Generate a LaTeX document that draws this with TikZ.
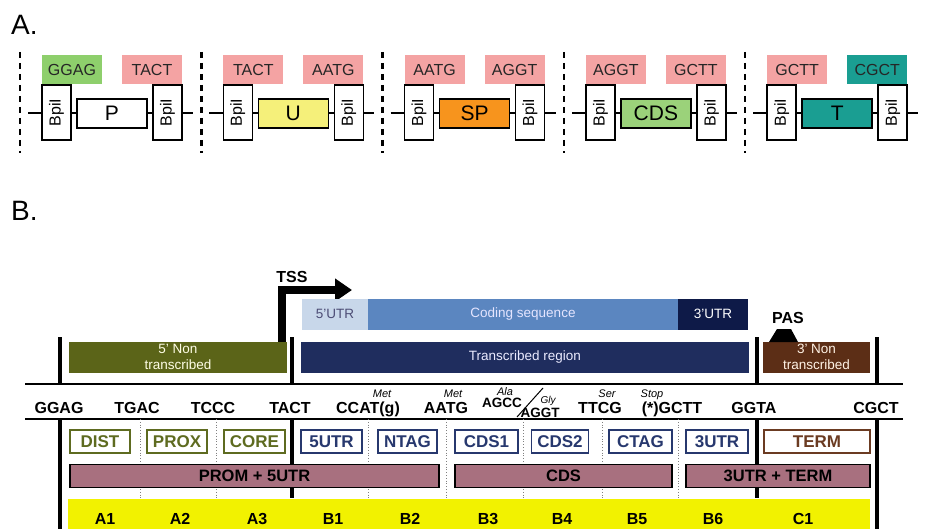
\documentclass[tikz,border=0pt]{standalone}
\usepackage{fontspec}
\setmainfont{Liberation Sans}
\usetikzlibrary{arrows.meta}

\definecolor{sgreen}{HTML}{8ECF6C}
\definecolor{spink}{HTML}{F4A3A3}
\definecolor{steal}{HTML}{1A9E92}
\definecolor{uyel}{HTML}{F5F07A}
\definecolor{sporange}{HTML}{F7941D}
\definecolor{cdsgreen}{HTML}{9BD27A}
\definecolor{utrlight}{HTML}{C8D7EA}
\definecolor{cdsblue}{HTML}{5B86C0}
\definecolor{utrdark}{HTML}{0E1A48}
\definecolor{trnavy}{HTML}{1F2D5E}
\definecolor{ntolive}{HTML}{5B6418}
\definecolor{ntbrown}{HTML}{5C2E16}
\definecolor{mauve}{HTML}{A8707F}
\definecolor{ybright}{HTML}{F2F200}
\definecolor{olvtext}{HTML}{5E6B20}
\definecolor{navtext}{HTML}{27386E}
\definecolor{brntext}{HTML}{6B3B22}

\begin{document}
\begin{tikzpicture}[x=1pt,y=-1pt,
    bpi/.style={draw, line width=1.5pt, fill=white, rotate=90, minimum width=55pt, minimum height=29pt, inner sep=0pt, font=\fontsize{16}{19}\selectfont},
    part/.style={draw, line width=1.5pt, minimum width=70pt, minimum height=29pt, inner sep=0pt, font=\fontsize{21}{25}\selectfont},
    site/.style={minimum width=60pt, minimum height=29pt, inner sep=0pt, font=\fontsize{16}{19}\selectfont, text=black!85},
    dashsep/.style={line width=2.5pt, dash pattern=on 6pt off 5pt},
    region/.style={minimum height=31pt, inner sep=0pt, align=center, font=\fontsize{13.5}{16}\selectfont},
    seq/.style={anchor=base, inner sep=0pt, font=\fontsize{16}{19}\selectfont\bfseries},
    aa/.style={anchor=base, inner sep=0pt, font=\fontsize{11}{13}\selectfont\itshape},
    mod/.style={draw, line width=1.5pt, fill=white, minimum height=23pt, inner sep=0pt, font=\fontsize{17}{20}\selectfont\bfseries},
    bar/.style={draw, line width=1.5pt, fill=mauve, minimum height=23pt, inner sep=0pt, font=\fontsize{16.5}{19}\selectfont\bfseries},
    wall/.style={line width=4pt},
    dotsep/.style={gray, line width=0.8pt, dotted}]
    \useasboundingbox (0,0) rectangle (925,529);

    % Panel labels
    \node[anchor=base west, inner sep=0pt, font=\fontsize{28}{32}\selectfont] (labA) at (11,35) {A.};
    \node[anchor=base west, inner sep=0pt, font=\fontsize{28}{32}\selectfont] (labB) at (11,221) {B.};

    % A: parts between BpiI sites
    \foreach \i/\p/\pc/\la/\lac/\lb/\lbc in {0/P/white/GGAG/sgreen/TACT/spink,
        1/U/uyel/TACT/spink/AATG/spink, 2/SP/sporange/AATG/spink/AGGT/spink,
        3/CDS/cdsgreen/AGGT/spink/GCTT/spink, 4/T/steal/GCTT/spink/CGCT/steal}{
        \pgfmathsetmacro\xo{42+181.3*\i}
        \draw[dashsep] (\xo-22,52) -- (\xo-22,153);
        \coordinate (l\i) at (\xo-14,113);
        \coordinate (r\i) at (\xo+151,113);
        \draw[line width=1.5pt] (l\i) -- (r\i);
        \node[bpi] (bl\i) at (\xo+14.5,112.5) {BpiI};
        \node[part, fill=\pc] (p\i) at (\xo+70,113.5) {\p};
        \node[bpi] (br\i) at (\xo+125.5,112.5) {BpiI};
        \node[site, fill=\lac] (sa\i) at (\xo+30,69.5) {\la};
        \node[site, fill=\lbc] (sb\i) at (\xo+110,69.5) {\lb};
    }

    % B: transcription unit
    \coordinate (tssfoot) at (282,343);
    \coordinate (tsstip) at (352,290);
    \draw[line width=8pt, -{Triangle[length=17pt,width=22pt]}] (tssfoot) |- (tsstip);
    \node[font=\fontsize{16}{19}\selectfont\bfseries] (tss) at (292,277) {TSS};

    \node[region, fill=utrlight, text=black!60!blue!40!gray, minimum width=67pt] (utr5) at (335,314) {5'UTR};
    \node[region, fill=cdsblue, text=white!90!blue, minimum width=310pt] (cdseq) at (523,314) {Coding sequence};
    \node[region, fill=utrdark, text=white, minimum width=70pt] (utr3) at (713,314) {3'UTR};

    \node[region, fill=ntolive, text=white!90!yellow, minimum width=218pt] (nt5) at (178,357) {5' Non\\transcribed};
    \node[region, fill=trnavy, text=white!92!blue, minimum width=448pt] (transcr) at (525,357) {Transcribed region};
    \node[region, fill=ntbrown, text=white!90!orange, minimum width=107pt] (nt3) at (816.5,357) {3' Non\\transcribed};

    \node[font=\fontsize{16}{19}\selectfont\bfseries] (pas) at (788,318) {PAS};
    \fill (769,342) -- (777,329) -- (791,329) -- (798,342) -- cycle;

    % Walls and strands
    \foreach \x in {60,292,757,877}
        \draw[wall] (\x,337) -- (\x,384);
    \draw[line width=1.6pt] (25,384) -- (903,384);
    \draw[line width=1.6pt] (25,419) -- (903,419);
    \draw[wall] (60,419) -- (60,529);
    \draw[wall] (292,419) -- (292,498);
    \draw[wall] (757,419) -- (757,498);
    \draw[wall] (877,419) -- (877,529);
    \foreach \x in {140,216,368,446,523,602,678}
        \draw[dotsep] (\x,419) -- (\x,499);

    % Overhangs
    \foreach \x/\t [count=\k] in {59/GGAG, 137/TGAC, 213/TCCC, 290/TACT, 368/CCAT(g),
        446/AATG, 600/TTCG, 672/(*)GCTT, 754/GGTA, 876/CGCT}
        \node[seq] (s\k) at (\x,413) {\t};
    \node[seq, font=\fontsize{13.5}{15}\selectfont\bfseries] (agcc) at (502,407) {AGCC};
    \node[seq, font=\fontsize{13.5}{15}\selectfont\bfseries] (aggt) at (540,417) {AGGT};
    \coordinate (sl1) at (517,417);
    \coordinate (sl2) at (543,388);
    \draw[line width=1pt] (sl1) -- (sl2);
    \node[aa] (met1) at (382,397) {Met};
    \node[aa] (met2) at (453,397) {Met};
    \node[aa] (ala) at (505,395) {Ala};
    \node[aa, font=\fontsize{10}{12}\selectfont\itshape] (gly) at (548,403) {Gly};
    \node[aa] (ser) at (607,397) {Ser};
    \node[aa] (stop) at (652,397) {Stop};

    % Modules
    \foreach \c/\w/\t/\col [count=\k] in {100/60/DIST/olvtext, 177/60/PROX/olvtext,
        254.5/61/CORE/olvtext, 331.5/61/5UTR/navtext, 407.5/59/NTAG/navtext,
        486.5/63/CDS1/navtext, 560/57/CDS2/navtext, 640.5/63/CTAG/navtext,
        717/62/3UTR/navtext, 817/106/TERM/brntext}
        \node[mod, draw=\col, text=\col, minimum width=\w pt] (m\k) at (\c,441.5) {\t};

    \node[bar, minimum width=369pt] (prom) at (254.5,476) {PROM + 5UTR};
    \node[bar, minimum width=217pt] (cds) at (563.5,476) {CDS};
    \node[bar, minimum width=184pt] (term) at (778,476) {3UTR + TERM};

    % Levels
    \node[fill=ybright, anchor=north west, minimum width=802pt, minimum height=30pt, inner sep=0pt] (band) at (68,499) {};
    \foreach \x/\t in {105/A1, 180/A2, 257/A3, 333/B1, 410/B2, 488/B3, 562/B4, 637/B5, 713/B6, 803/C1}
        \node[seq] (lv\t) at (\x,524) {\t};
\end{tikzpicture}
\end{document}
